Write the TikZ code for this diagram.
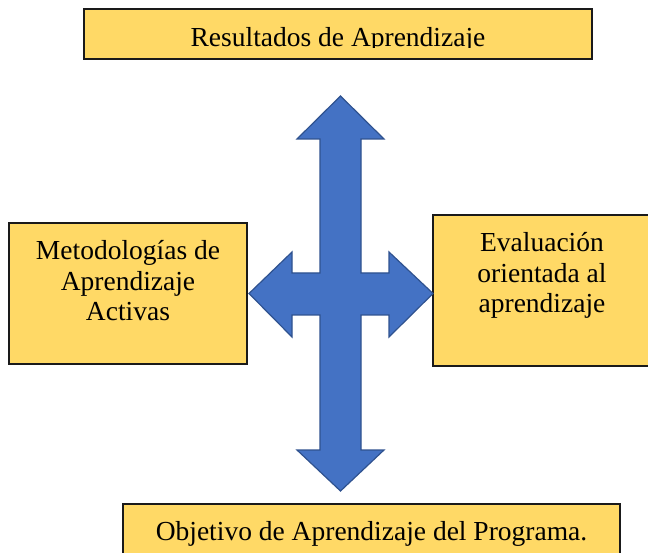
\documentclass[tikz,border=0pt]{standalone}
\usepackage{fontspec}
\setmainfont{Liberation Serif}
\definecolor{boxfill}{HTML}{FFD966}
\definecolor{boxline}{HTML}{1A1A1A}
\definecolor{arrfill}{HTML}{4472C4}
\definecolor{arrline}{HTML}{2F528F}
\begin{document}
\begin{tikzpicture}[x=1pt,y=-1pt,
  box/.style={draw=boxline,fill=boxfill,line width=1.4pt,inner sep=0pt},
  lbl/.style={inner sep=0pt,align=center,font=\fontsize{27.5}{30.5}\selectfont}]
\clip (0,0) rectangle (648,553);
\useasboundingbox (0,0) rectangle (648,553);
% boxes
\node[box,minimum width=508pt,minimum height=50pt] (top) at (338,34) {};
\node[box,minimum width=238pt,minimum height=141pt] (left) at (128,293.5) {};
\node[box,minimum width=229pt,minimum height=151pt] (right) at (547.5,290.5) {};
\node[box,minimum width=497pt,minimum height=62pt] (bottom) at (371.5,535) {};
% texts
\begin{scope}
\clip (86,11) rectangle (590,48);
\node[lbl,anchor=base] (toptext) at (338,47) {Resultados de Aprendizaje};
\end{scope}
\node[lbl,anchor=north] (lefttext) at (128,240.5) {Metodologías de\\Aprendizaje\\Activas};
\node[lbl,anchor=north] (righttext) at (542,232.5) {Evaluación\\orientada al\\aprendizaje};
\node[lbl,anchor=base] (bottomtext) at (371.5,540) {Objetivo de Aprendizaje del Programa.};
% quad arrow
\draw[fill=arrfill,draw=arrline,line width=1.2pt,line join=miter]
  (340.5,96) -- (384,139) -- (361,139) -- (361,273) -- (389,273) -- (389,252)
  -- (433,293.5) -- (389,337) -- (389,315) -- (361,315) -- (361,450) -- (384,450)
  -- (340.5,491) -- (297,450) -- (320,450) -- (320,315) -- (292,315) -- (292,337)
  -- (249,293.5) -- (292,252) -- (292,273) -- (320,273) -- (320,139) -- (297,139) -- cycle;
\end{tikzpicture}
\end{document}
